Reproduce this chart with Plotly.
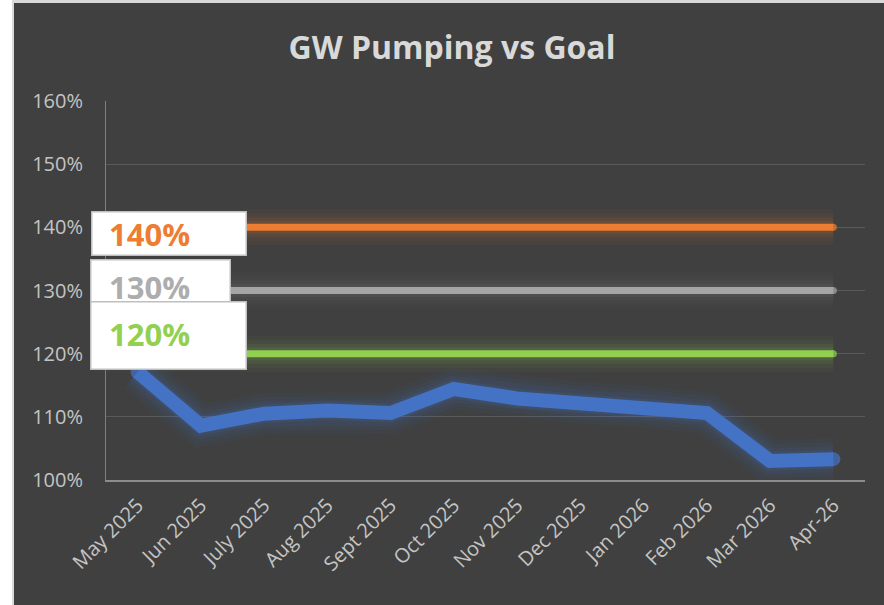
import plotly.graph_objects as go

months = ["May 2025", "Jun 2025", "July 2025", "Aug 2025", "Sept 2025", "Oct 2025",
          "Nov 2025", "Dec 2025", "Jan 2026", "Feb 2026", "Mar 2026", "Apr-26"]
pumping = [1.171, 1.086, 1.105, 1.110, 1.106, 1.144, 1.129, 1.122, 1.116, 1.106, 1.030, 1.033]
goal_140 = [1.40] * 12
goal_130 = [1.30] * 12
goal_120 = [1.20] * 12
y_ticks = [1.0, 1.1, 1.2, 1.3, 1.4, 1.5, 1.6]
y_ticklabels = ["100%", "110%", "120%", "130%", "140%", "150%", "160%"]

BG = "#404040"
FONT = "Open Sans"

# Layout pixel geometry (884 x 605)
W, H = 884, 605
ML, MR, MT, MB = 106, 19, 101, 125
PW = W - ML - MR
PH = H - MT - MB


def px(x):
    return (x - ML) / PW


def py(y):
    return (H - MB - y) / PH


fig = go.Figure()


def glow_line(y, color, glow_rgba, width, glow_widths):
    for gw, a in glow_widths:
        fig.add_trace(go.Scatter(
            x=months, y=y, mode="lines",
            line=dict(color=glow_rgba.format(a=a), width=gw, shape="linear"),
            hoverinfo="skip", showlegend=False))
    sizes = [0] * (len(y) - 1) + [width]
    fig.add_trace(go.Scatter(
        x=months, y=y, mode="lines+markers",
        line=dict(color=color, width=width),
        marker=dict(size=sizes, color=color, line=dict(width=0)),
        showlegend=False))


glow_line(goal_140, "#ED7D31", "rgba(237,125,49,{a})", 7, [(36, 0.04), (28, 0.05), (20, 0.07), (13, 0.10)])
glow_line(goal_130, "#A5A5A5", "rgba(165,165,165,{a})", 7, [(36, 0.025), (28, 0.035), (20, 0.05), (13, 0.07)])
glow_line(goal_120, "#92D050", "rgba(146,208,80,{a})", 7, [(36, 0.04), (28, 0.05), (20, 0.07), (13, 0.10)])

# pumping line with glow
for gw, a in [(42, 0.05), (34, 0.06), (26, 0.09), (19, 0.12)]:
    fig.add_trace(go.Scatter(
        x=months, y=pumping, mode="lines",
        line=dict(color=f"rgba(68,114,196,{a})", width=gw),
        hoverinfo="skip", showlegend=False))
fig.add_trace(go.Scatter(
    x=months, y=pumping, mode="lines+markers",
    line=dict(color="#4472C4", width=14),
    marker=dict(size=[14] + [0] * 10 + [14], color="#4472C4", line=dict(width=0)),
    showlegend=False))

shapes = [
    dict(type="rect", xref="paper", yref="paper", x0=px(12), x1=px(W + 20), y0=py(0), y1=py(H + 20),
         fillcolor="#D9D9D9", line=dict(width=0), layer="below"),
    dict(type="rect", xref="paper", yref="paper", x0=px(14), x1=px(W + 20), y0=py(3), y1=py(H + 20),
         fillcolor=BG, line=dict(width=0), layer="below"),
]

annotations = []
boxes = [
    ("140%", "#ED7D31", 91, 247, 211, 256, 234),
    ("130%", "#ADADAD", 90, 231, 259, 306, 287),
    ("120%", "#92D050", 90, 247, 301, 370, 334),
]
for txt, col, x0, x1, y0, y1, yc in boxes:
    bw = 1.5
    annotations.append(dict(
        xref="paper", yref="paper", x=px(x0), y=py(y0), xanchor="left", yanchor="top",
        text=" ", showarrow=False, width=(x1 - x0) - 2 * bw, height=(y1 - y0) - 2 * bw,
        bgcolor="#FFFFFF", bordercolor="#BFBFBF", borderwidth=bw, borderpad=0))
    annotations.append(dict(
        xref="paper", yref="paper", x=px(107), y=py(yc), xanchor="left", yanchor="middle",
        text=f"<b>{txt}</b>", showarrow=False, font=dict(family=FONT, size=31, color=col)))

fig.update_layout(
    width=W, height=H,
    margin=dict(l=ML, r=MR, t=MT, b=MB, autoexpand=False),
    paper_bgcolor="#FFFFFF",
    plot_bgcolor=BG,
    font=dict(family=FONT, color="#C8C8C8"),
    title=dict(text="<b>GW Pumping vs Goal</b>", x=452 / W, xanchor="center",
               y=1 - 48 / H, yanchor="middle", yref="container",
               font=dict(family=FONT, size=32, color="#D9D9D9")),
    xaxis=dict(
        type="category", categoryorder="array", categoryarray=months,
        range=[-0.5, 11.5], showgrid=False, zeroline=False,
        showline=True, linecolor="#8C8C8C", linewidth=1.5,
        ticks="", tickangle=-45, ticklabelstandoff=4,
        tickfont=dict(family=FONT, size=20, color="#C4C4C4"),
    ),
    yaxis=dict(
        range=[1.0, 1.6], tickvals=y_ticks, ticktext=y_ticklabels,
        showgrid=True, gridcolor="#5A5A5A", gridwidth=1, zeroline=False,
        showline=True, linecolor="#7F7F7F", linewidth=1,
        ticks="", ticklabelstandoff=18,
        tickfont=dict(family=FONT, size=20, color="#C4C4C4"),
    ),
    shapes=shapes,
    annotations=annotations,
    showlegend=False,
)

fig.write_html("out.html", config={"displayModeBar": False},
               post_script="document.body.style.margin='0px';")
